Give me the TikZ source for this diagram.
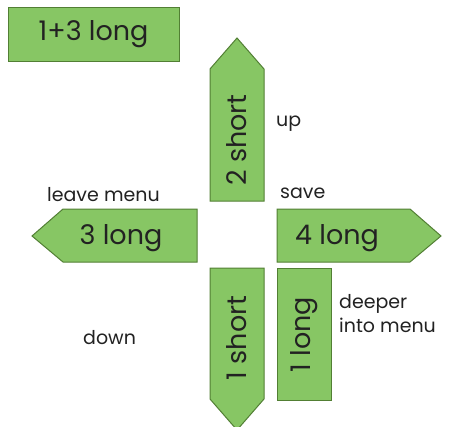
\documentclass[tikz,border=0pt]{standalone}
\usepackage{fontspec}
\setmainfont{Poppins}
\usepackage{xcolor}
\usepackage{tikz}
\usetikzlibrary{positioning}

\definecolor{keyfill}{HTML}{87C664}
\definecolor{keyline}{HTML}{527F34}
\definecolor{hinttext}{HTML}{222222}

\begin{document}
\begin{tikzpicture}[x=1pt, y=-1pt,
    keybox/.style={draw=keyline, fill=keyfill, line width=1pt, line join=miter},
    keylabel/.style={font=\fontsize{27}{30}\selectfont, text=hinttext, inner sep=0pt},
    hint/.style={font=\fontsize{19}{24}\selectfont, text=hinttext, inner sep=0pt, align=left}]

\useasboundingbox (0,0) rectangle (450,426);

% Combination box
\node[keybox, minimum width=171pt, minimum height=54pt, keylabel] (both) at (93.5,34) {1+3 long};

% Key shapes
\draw[keybox] (210,201) -- (210,69) -- (237,38) -- (264,69) -- (264,201) -- cycle;
\draw[keybox] (197,209) -- (63,209) -- (32,236) -- (63,262) -- (197,262) -- cycle;
\draw[keybox] (277,209) -- (410,209) -- (441,236) -- (410,262) -- (277,262) -- cycle;
\draw[keybox] (210,268) -- (264,268) -- (264,399) -- (237,430) -- (210,399) -- cycle;
\node[keybox, minimum width=54pt, minimum height=132pt, anchor=north west] (long1) at (277,268) {};

% Key labels
\node[keylabel, rotate=90] (short2) at (237,140) {2 short};
\node[keylabel, anchor=base] (long3) at (121,244) {3 long};
\node[keylabel, anchor=base] (long4) at (337,244) {4 long};
\node[keylabel, rotate=90] (short1) at (237,338) {1 short};
\node[keylabel, rotate=90] at (long1.center) {1 long};

% Hints
\node[hint, anchor=base west] (up) at (276,126) {up};
\node[hint, anchor=base west] (save) at (280,198) {save};
\node[hint, anchor=base west] (leave) at (47,201) {leave menu};
\node[hint, anchor=base west] (down) at (83,344) {down};
\node[hint, anchor=base west] (deeper) at (339,332) {deeper\\into menu};
\end{tikzpicture}
\end{document}
